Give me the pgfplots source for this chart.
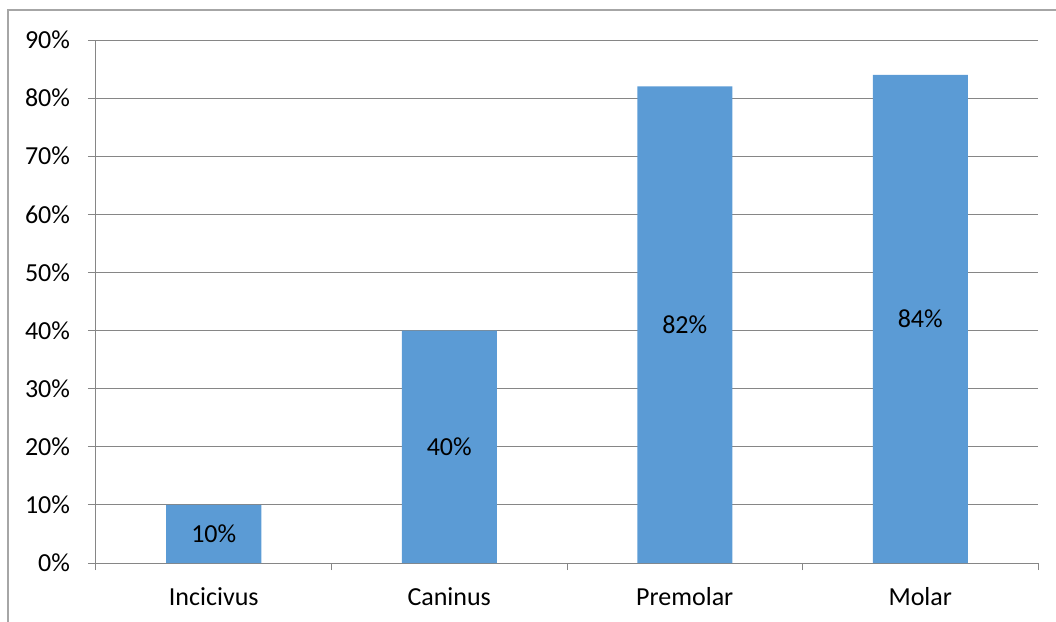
\documentclass[border=0pt]{standalone}
\usepackage{pgfplots}
\pgfplotsset{compat=1.18}
\usepackage{fontspec}
\setmainfont{Carlito}
\definecolor{barblue}{HTML}{5B9BD5}
\definecolor{gridgray}{HTML}{868686}
\definecolor{framegray}{HTML}{A6A6A6}
\begin{document}
\begin{tikzpicture}
\useasboundingbox (-72pt,-43.5pt) rectangle (720pt,422.25pt);
\draw[framegray, line width=1pt] (-66pt,-60pt) -- (-66pt,414.75pt) -- (740pt,414.75pt);
\begin{axis}[
  at={(0,0)}, anchor=south west,
  scale only axis, width=706.5pt, height=392.25pt,
  xmin=-0.5, xmax=3.5, ymin=0, ymax=90,
  axis x line=bottom, axis y line=left,
  axis line style={draw=gridgray, line width=0.75pt, -},
  /pgf/number format/assume math mode=true,
  ytick={0,10,...,90},
  yticklabel={\pgfmathprintnumber{\tick}\%},
  xtick={0,1,2,3},
  xticklabels={Incicivus,Caninus,Premolar,Molar},
  minor xtick={-0.5,0.5,1.5,2.5,3.5},
  major x tick style={draw=none},
  tick align=outside,
  major tick length=6pt,
  minor tick length=5.25pt,
  tick style={draw=gridgray, line width=0.75pt},
  ymajorgrids,
  grid style={draw=gridgray, line width=0.75pt},
  tick label style={font=\fontsize{19.5pt}{23pt}\selectfont, text=black},
  yticklabel style={xshift=-10pt},
  xticklabel style={yshift=-9pt},
  ybar, bar width=71.25pt,
  visualization depends on={y \as \rawy},
  nodes near coords={\pgfmathprintnumber{\pgfplotspointmeta}\%},
  every node near coord/.append style={anchor=center, font=\fontsize{19.5pt}{23pt}\selectfont, text=black,
     shift={(axis direction cs:0,-\rawy/2)}},
]
\addplot[fill=barblue, draw=none] coordinates {(0,10) (1,40) (2,82) (3,84)};
\end{axis}
\end{tikzpicture}
\end{document}
